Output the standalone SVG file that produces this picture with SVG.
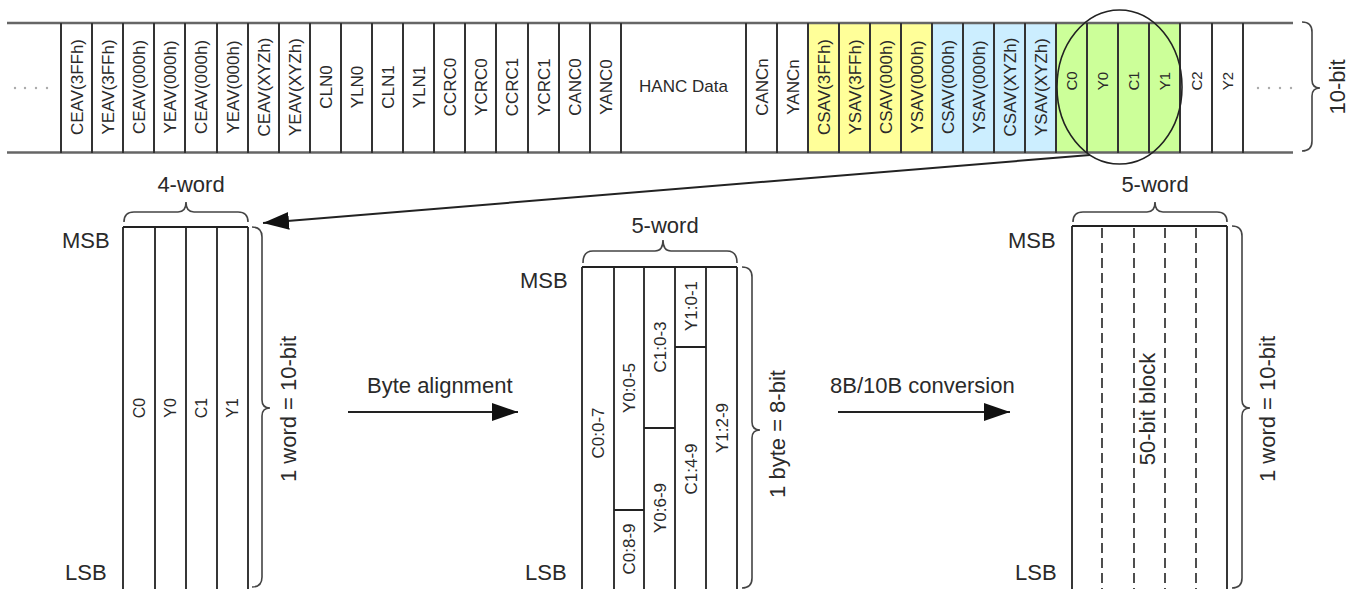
<svg xmlns="http://www.w3.org/2000/svg" width="1360" height="589" viewBox="0 0 1360 589">
<style>
text{font-family:"Liberation Sans",Arial,sans-serif;fill:#2a2a2a}
.t17{font-size:17px}
.t15{font-size:15px}
.t16{font-size:16px}
.t22{font-size:22px}
.band{stroke:#666;stroke-width:2.5;fill:none}
.sep{stroke:#333;stroke-width:2;fill:none}
.blk{stroke:#222;stroke-width:1.8;fill:none}
.dash{stroke:#222;stroke-width:1.6;fill:none;stroke-dasharray:10 5}
.brace{stroke:#444;stroke-width:1.6;fill:none}
.conn{stroke:#222;stroke-width:2;fill:none}
.yel{fill:#FFFF99}
.blu{fill:#CCEEFF}
.grn{fill:#CCFF99}
.dot{fill:#aaa}
</style>
<defs>
<marker id="ah" markerUnits="userSpaceOnUse" markerWidth="28" markerHeight="20" viewBox="0 0 28 20" refX="26" refY="10" orient="auto">
<path d="M0,1 L26,10 L0,19 Z" fill="#111"/>
</marker>
</defs>

<!-- top band -->
<g id="band">
<rect class="yel" x="808" y="23" width="124" height="130"/>
<rect class="blu" x="932" y="23" width="124" height="130"/>
<rect class="grn" x="1056" y="23" width="124" height="130"/>
<line class="band" x1="7" y1="23" x2="1293" y2="23"/>
<line class="band" x1="7" y1="152.5" x2="1293" y2="152.5"/>
<g class="dot"><circle cx="15" cy="88" r="1.2"/><circle cx="25" cy="88" r="1.2"/><circle cx="36" cy="88" r="1.2"/><circle cx="47" cy="88" r="1.2"/>
<circle cx="1258" cy="88" r="1.2"/><circle cx="1269" cy="88" r="1.2"/><circle cx="1280" cy="88" r="1.2"/><circle cx="1291" cy="88" r="1.2"/></g>
<g class="sep">
<path d="M61,23V153M92,23V153M123,23V153M154,23V153M185,23V153M217,23V153M248,23V153M279,23V153M310,23V153M341,23V153M372,23V153M403,23V153M434,23V153M465,23V153M496,23V153M528,23V153M559,23V153M590,23V153M621,23V153"/>
<path d="M746,23V153M777,23V153M808,23V153M839,23V153M870,23V153M901,23V153M932,23V153M963,23V153M994,23V153M1025,23V153M1056,23V153M1087,23V153M1118,23V153M1149,23V153M1180,23V153M1212,23V153M1243,23V153"/>
</g>
</g>

<g id="fields" class="t17" text-anchor="middle">
<g id="f1"><text transform="translate(82.5,87) rotate(-90)">CEAV(3FFh)</text></g>
<g id="f2"><text transform="translate(113.5,87) rotate(-90)">YEAV(3FFh)</text></g>
<g id="f3"><text transform="translate(144.5,87) rotate(-90)">CEAV(000h)</text></g>
<g id="f4"><text transform="translate(175.5,87) rotate(-90)">YEAV(000h)</text></g>
<g id="f5"><text transform="translate(207,87) rotate(-90)">CEAV(000h)</text></g>
<g id="f6"><text transform="translate(238.5,87) rotate(-90)">YEAV(000h)</text></g>
<g id="f7"><text transform="translate(269.5,87) rotate(-90)">CEAV(XYZh)</text></g>
<g id="f8"><text transform="translate(300.5,87) rotate(-90)">YEAV(XYZh)</text></g>
<g id="f9"><text transform="translate(331.5,87) rotate(-90)">CLN0</text></g>
<g id="f10"><text transform="translate(362.5,87) rotate(-90)">YLN0</text></g>
<g id="f11"><text transform="translate(393.5,87) rotate(-90)">CLN1</text></g>
<g id="f12"><text transform="translate(424.5,87) rotate(-90)">YLN1</text></g>
<g id="f13"><text transform="translate(455.5,87) rotate(-90)">CCRC0</text></g>
<g id="f14"><text transform="translate(486.5,87) rotate(-90)">YCRC0</text></g>
<g id="f15"><text transform="translate(518,87) rotate(-90)">CCRC1</text></g>
<g id="f16"><text transform="translate(549.5,87) rotate(-90)">YCRC1</text></g>
<g id="f17"><text transform="translate(580.5,87) rotate(-90)">CANC0</text></g>
<g id="f18"><text transform="translate(611.5,87) rotate(-90)">YANC0</text></g>
<g id="f19"><text x="683.5" y="92">HANC Data</text></g>
<g id="f20"><text transform="translate(767.5,87) rotate(-90)">CANCn</text></g>
<g id="f21"><text transform="translate(798.5,87) rotate(-90)">YANCn</text></g>
<g id="f22"><text transform="translate(829.5,87) rotate(-90)">CSAV(3FFh)</text></g>
<g id="f23"><text transform="translate(860.5,87) rotate(-90)">YSAV(3FFh)</text></g>
<g id="f24"><text transform="translate(891.5,87) rotate(-90)">CSAV(000h)</text></g>
<g id="f25"><text transform="translate(922.5,87) rotate(-90)">YSAV(000h)</text></g>
<g id="f26"><text transform="translate(953.5,87) rotate(-90)">CSAV(000h)</text></g>
<g id="f27"><text transform="translate(984.5,87) rotate(-90)">YSAV(000h)</text></g>
<g id="f28"><text transform="translate(1015.5,87) rotate(-90)">CSAV(XYZh)</text></g>
<g id="f29"><text transform="translate(1046.5,87) rotate(-90)">YSAV(XYZh)</text></g>
<g id="f30" class="t15"><text transform="translate(1077,81) rotate(-90)">C0</text></g>
<g id="f31" class="t15"><text transform="translate(1108,81) rotate(-90)">Y0</text></g>
<g id="f32" class="t15"><text transform="translate(1139,81) rotate(-90)">C1</text></g>
<g id="f33" class="t15"><text transform="translate(1170,81) rotate(-90)">Y1</text></g>
<g id="f34" class="t15"><text transform="translate(1201.5,81) rotate(-90)">C2</text></g>
<g id="f35" class="t15"><text transform="translate(1233,81) rotate(-90)">Y2</text></g>
</g>

<g id="topbrace">
<path class="brace" d="M1302,22 Q1312,22 1312,32 L1312,80 Q1312,88 1320,88 Q1312,88 1312,96 L1312,141 Q1312,151 1302,151"/>
<text class="t22" text-anchor="middle" transform="translate(1345,87) rotate(-90)">10-bit</text>
</g>

<g id="highlight">
<ellipse cx="1119.5" cy="87" rx="62.5" ry="77" fill="none" stroke="#222" stroke-width="1.6"/>
</g>

<!-- left block: 4-word -->
<g id="block4">
<text class="t22" x="62" y="248">MSB</text>
<text class="t22" x="65" y="580">LSB</text>
<path class="blk" d="M123,227H248M123,227V589M155,227V589M186,227V589M217,227V589M248,227V589"/>
<g class="t16" text-anchor="middle">
<text transform="translate(145,408) rotate(-90)">C0</text>
<text transform="translate(176,408) rotate(-90)">Y0</text>
<text transform="translate(207,408) rotate(-90)">C1</text>
<text transform="translate(238,408) rotate(-90)">Y1</text>
</g>
<path class="brace" d="M124,222 Q124,212 134,212 L178,212 Q186,212 186,202 Q186,212 194,212 L238,212 Q248,212 248,222"/>
<text class="t22" text-anchor="middle" x="191" y="192">4-word</text>
<path class="brace" d="M252,227 Q262,227 262,237 L262,400 Q262,408 270,408 Q262,408 262,416 L262,577 Q262,587 252,587"/>
<text class="t22" text-anchor="middle" transform="translate(296,409) rotate(-90)">1 word = 10-bit</text>
</g>

<!-- middle block: byte aligned -->
<g id="block5b">
<text class="t22" x="520" y="288">MSB</text>
<text class="t22" x="525" y="580">LSB</text>
<path class="blk" d="M582,267H737M582,267V589M614,267V589M644,267V589M675,267V589M706,267V589M737,267V589M614,510H644M644,428H675M675,347H706"/>
<g class="t17" text-anchor="middle">
<text transform="translate(604,433) rotate(-90)">C0:0-7</text>
<text transform="translate(635,388) rotate(-90)">Y0:0-5</text>
<text transform="translate(635,549) rotate(-90)">C0:8-9</text>
<text transform="translate(666,347) rotate(-90)">C1:0-3</text>
<text transform="translate(666,508) rotate(-90)">Y0:6-9</text>
<text transform="translate(697,306) rotate(-90)">Y1:0-1</text>
<text transform="translate(697,469) rotate(-90)">C1:4-9</text>
<text transform="translate(728,428) rotate(-90)">Y1:2-9</text>
</g>
<path class="brace" d="M583,263 Q583,251 593,251 L655,251 Q663,251 663,240 Q663,251 671,251 L727,251 Q737,251 737,263"/>
<text class="t22" text-anchor="middle" x="665" y="233">5-word</text>
<path class="brace" d="M742,267 Q752,267 752,277 L752,422 Q752,430 760,430 Q752,430 752,438 L752,578 Q752,588 742,588"/>
<text class="t22" text-anchor="middle" transform="translate(785,434) rotate(-90)">1 byte = 8-bit</text>
</g>

<!-- right block: 50-bit block -->
<g id="block50">
<text class="t22" x="1008" y="248">MSB</text>
<text class="t22" x="1015" y="580">LSB</text>
<path class="blk" d="M1072,226H1227M1072,226V589M1227,226V589"/>
<path class="dash" d="M1102,228V589M1134,228V589M1165,228V589M1196,228V589"/>
<text class="t22" text-anchor="middle" transform="translate(1155,409) rotate(-90)">50-bit block</text>
<path class="brace" d="M1073,222 Q1073,212 1083,212 L1147,212 Q1155,212 1155,202 Q1155,212 1163,212 L1217,212 Q1227,212 1227,222"/>
<text class="t22" text-anchor="middle" x="1155" y="192">5-word</text>
<path class="brace" d="M1232,226 Q1242,226 1242,236 L1242,400 Q1242,408 1250,408 Q1242,408 1242,416 L1242,578 Q1242,588 1232,588"/>
<text class="t22" text-anchor="middle" transform="translate(1275,409) rotate(-90)">1 word = 10-bit</text>
</g>

<g id="connectors">
<line class="conn" x1="1090" y1="155" x2="263" y2="223" marker-end="url(#ah)"/>
<line class="conn" x1="348" y1="412" x2="518" y2="412" marker-end="url(#ah)"/>
<line class="conn" x1="838" y1="412" x2="1010" y2="412" marker-end="url(#ah)"/>
<text class="t22" x="367" y="393">Byte alignment</text>
<text class="t22" x="830" y="393">8B/10B conversion</text>
</g>
</svg>
